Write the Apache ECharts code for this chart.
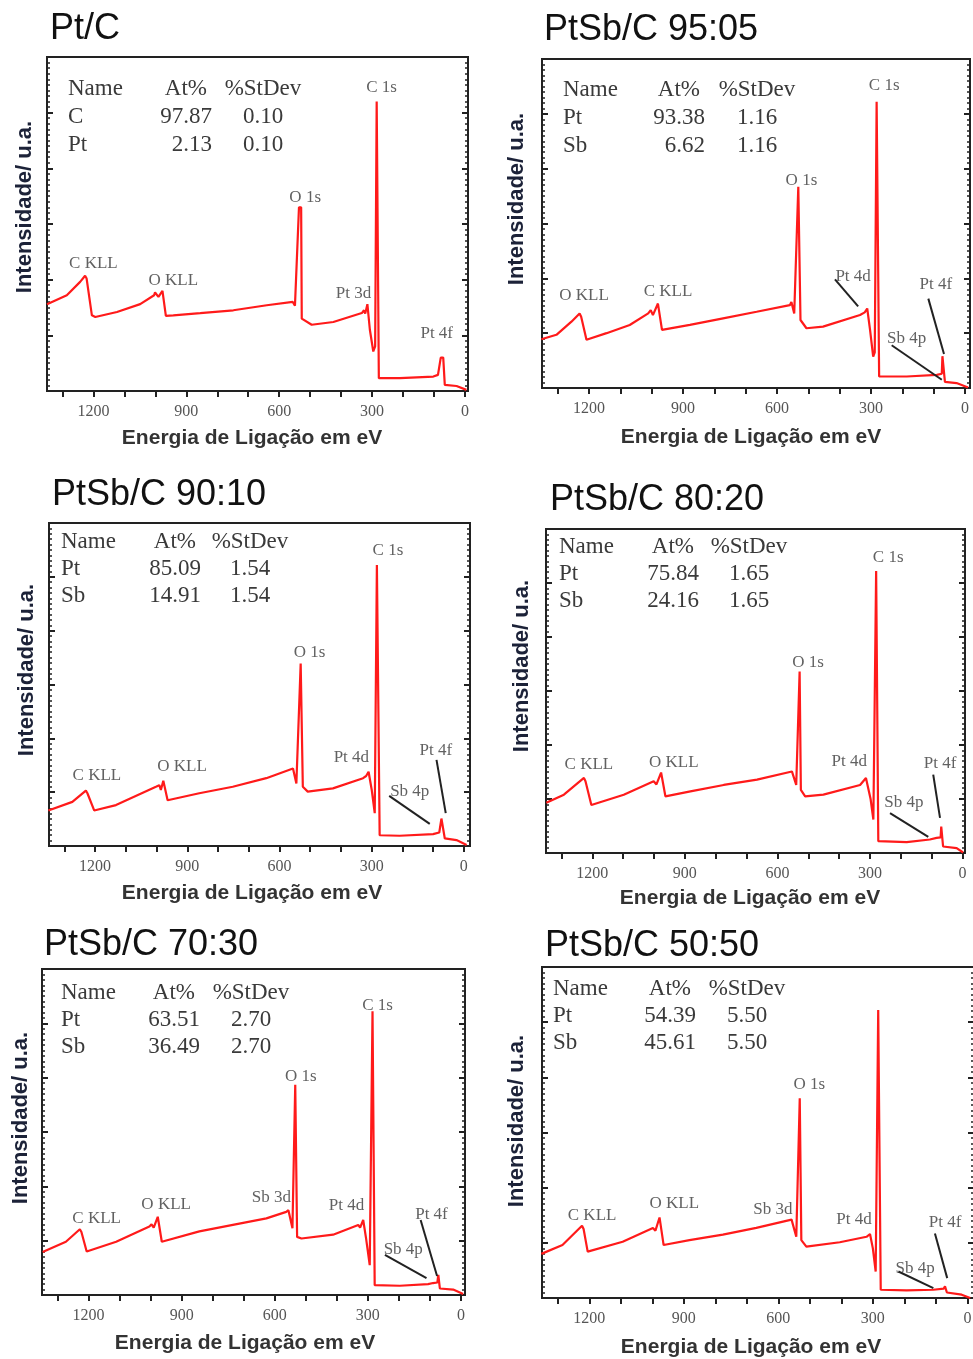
<!DOCTYPE html>
<html><head><meta charset="utf-8">
<script src="https://cdn.jsdelivr.net/npm/echarts@6/dist/echarts.min.js"></script>
<style>html,body{margin:0;padding:0;background:#fff}#c{width:973px;height:1359px}</style>
</head><body><div id="c"></div>
<script>
// ---------- DATA ----------
const panelTitles = ['Pt/C','PtSb/C 95:05','PtSb/C 90:10','PtSb/C 80:20','PtSb/C 70:30','PtSb/C 50:50'];
const xTickValues = [0,100,200,300,400,500,600,700,800,900,1000,1100,1200,1300];
const xLabelValues = [0,300,600,900,1200];
const yAxisName = 'Intensidade/ u.a.';
const xAxisName = 'Energia de Ligação em eV';
const tableHeader = ['Name','At%','%StDev'];

// Panel 1: Pt/C
const ptc_E = [1350,1286,1243,1227,1222,1205,1194,1124,1049,1004,1001,990,977,966,942,855,748,640,556,549,536,529,527,495,425,333,326,322,315,307,296,290,285,280,278,210,102,87,78,70,65,27,-5];
const ptc_I = [15.6,17.2,19.6,20.7,20.2,13.6,13.3,14.2,15.6,17.2,17.7,16.9,18.0,13.5,13.6,14.0,14.5,15.4,16.0,15.3,33.0,33.0,13.0,11.9,12.4,14.0,14.5,13.9,15.6,11.0,7.1,8.0,52.0,51.8,2.3,2.3,2.6,2.9,6.0,6.0,1.1,0.9,0.2];
const ptc_pkName = ['C KLL','O KLL','O 1s','C 1s','Pt 3d','Pt 4f'];
const ptc_pkE = [1200,942,516,269,360,91];
const ptc_pkI = [22.9,19.8,34.8,54.5,17.5,10.3];
const ptc_leaders = [];
const ptc_table = [['C','97.87','0.10'],['Pt','2.13','0.10']];

// Panel 2: PtSb/C 95:05
const pt95_E = [1352,1304,1256,1230,1225,1208,1144,1070,1011,1003,996,980,967,878,772,665,559,554,545,532,529,525,506,453,335,320,312,303,293,288,282,277,274,186,90,74,72,67,64,27,-10];
const pt95_I = [8.9,9.7,12.1,13.6,13.0,8.8,10.0,11.5,13.6,14.2,13.3,15.4,10.6,11.5,12.7,13.9,15.1,15.7,13.6,36.7,36.5,12.4,10.9,11.2,13.3,13.8,14.5,10.6,5.7,6.5,52.2,52.0,2.1,2.1,2.4,2.6,5.8,5.8,1.1,0.9,0.1];
const pt95_pkName = ['O KLL','C KLL','O 1s','C 1s','Pt 4d','Pt 4f','Sb 4p'];
const pt95_pkE = [1216,948,522,258,357,93,186];
const pt95_pkI = [16.9,17.6,37.9,55.1,20.4,18.8,9.1];
const pt95_leaders = [[415,19.8,341,14.9],[117,16.3,67,6.2],[234,7.8,74,1.5]];
const pt95_table = [['Pt','93.38','1.16'],['Sb','6.62','1.16']];

// Panel 3: PtSb/C 90:10
const pt90_E = [1352,1274,1230,1225,1203,1132,1002,991,986,978,964,861,752,643,556,545,531,528,524,508,426,328,318,310,300,290,283,279,274,209,100,80,73,69,62,24,-9];
const pt90_I = [6.6,8.2,10.3,9.8,6.6,7.6,11.0,11.3,10.4,12.1,8.5,9.8,11.0,12.6,14.4,11.6,33.9,33.8,11.0,10.1,10.7,12.6,13.0,13.8,10.5,6.1,52.2,52.0,2.0,1.9,2.2,2.5,5.1,5.1,1.4,1.1,0.2];
const pt90_pkName = ['C KLL','O KLL','O 1s','C 1s','Pt 4d','Pt 4f','Sb 4p'];
const pt90_pkE = [1194,917,502,247,366,91,176];
const pt90_pkI = [13.0,14.7,35.9,54.8,16.5,17.8,10.1];
const pt90_leaders = [[243,9.3,111,4.1],[89,16.0,59,6.1]];
const pt90_table = [['Pt','85.09','1.54'],['Sb','14.91','1.54']];

// Panel 4: PtSb/C 80:20
const pt80_E = [1349,1292,1227,1222,1203,1098,1001,992,977,963,882,774,666,553,539,528,525,524,510,451,332,313,298,289,280,276,273,181,106,84,71,69,66,63,19,-2];
const pt80_I = [9.3,10.8,13.9,13.3,8.9,10.8,13.3,12.7,14.9,10.5,11.4,12.6,13.6,15.1,12.6,33.6,33.5,11.7,10.5,10.8,12.6,13.9,10.0,6.2,52.2,52.0,2.2,2.0,2.5,2.8,2.9,4.9,4.9,1.2,0.9,0.1];
const pt80_pkName = ['C KLL','O KLL','O 1s','C 1s','Pt 4d','Pt 4f','Sb 4p'];
const pt80_pkE = [1211,936,501,241,367,73,190];
const pt80_pkI = [16.4,16.7,35.2,54.8,16.9,16.5,9.3];
const pt80_leaders = [[235,7.4,111,3.0],[95,14.5,73,6.5]];
const pt80_table = [['Pt','75.84','1.65'],['Sb','24.16','1.65']];

// Panel 5: PtSb/C 70:30
const pt70_E = [1348,1273,1228,1223,1206,1111,1004,997,990,977,964,843,735,627,563,556,543,534,531,528,514,412,331,325,315,306,294,285,281,278,197,106,90,76,73,70,68,25,-7];
const pt70_I = [7.9,9.8,12.1,11.6,8.0,9.8,12.6,13.0,12.4,14.4,9.8,11.7,12.9,14.1,15.3,15.6,12.3,38.7,38.6,10.7,10.4,11.1,12.9,12.4,13.8,10.5,5.5,52.2,52.0,1.8,1.7,2.0,2.2,2.3,3.7,3.7,1.2,1.0,0.2];
const pt70_pkName = ['C KLL','O KLL','Sb 3d','O 1s','C 1s','Pt 4d','Pt 4f','Sb 4p'];
const pt70_pkE = [1174,950,611,516,269,369,95,186];
const pt70_pkI = [14.0,16.6,18.0,40.3,53.2,16.4,14.9,8.4];
const pt70_leaders = [[245,7.4,111,3.1],[130,13.8,77,3.5]];
const pt70_table = [['Pt','63.51','2.70'],['Sb','36.49','2.70']];

// Panel 6: PtSb/C 50:50
const pt50_E = [1352,1285,1223,1218,1205,1094,998,990,977,964,882,776,670,558,543,532,529,527,511,405,320,309,300,291,283,279,275,193,108,75,71,68,65,18,-9];
const pt50_I = [8.0,9.6,13.1,12.5,8.4,10.2,12.7,12.2,14.6,9.6,10.5,11.5,12.7,14.2,11.1,36.2,36.0,10.5,9.3,10.1,11.1,11.6,9.0,4.8,52.2,52.0,1.5,1.4,1.5,1.7,2.1,2.1,1.0,0.6,0.0];
const pt50_pkName = ['C KLL','O KLL','Sb 3d','O 1s','Pt 4d','Pt 4f','Sb 4p'];
const pt50_pkE = [1191,930,617,502,360,71,166];
const pt50_pkI = [14.9,17.2,16.0,38.7,14.3,13.6,5.4];
const pt50_leaders = [[219,4.8,108,1.8],[103,11.7,64,3.6]];
const pt50_table = [['Pt','54.39','5.50'],['Sb','45.61','5.50']];

// ---------- LAYOUT ----------
const layout = [
  {l:47, t:57, w:421, h:334, xmin:-10, title:[50,29], yname:[25,207], xname:[252,438], tb:{x:21,r:165,c:216,y0:32,dy:28}},
  {l:542,t:59, w:428, h:329, xmin:-16, title:[544,30], yname:[517,199], xname:[751,437], tb:{x:21,r:163,c:215,y0:31,dy:28}},
  {l:49, t:523,w:421, h:323, xmin:-20, title:[52,495], yname:[27,670], xname:[252,893], tb:{x:12,r:152,c:201,y0:19,dy:27}},
  {l:546,t:529,w:419, h:324, xmin:-8,  title:[550,500], yname:[522,666], xname:[750,898], tb:{x:13,r:153,c:203,y0:18,dy:27}},
  {l:42, t:969,w:423, h:326, xmin:-13, title:[44,945], yname:[21,1118], xname:[245,1343], tb:{x:19,r:158,c:209,y0:24,dy:27}},
  {l:542,t:967,w:432, h:331, xmin:-21, title:[545,946], yname:[517,1121], xname:[751,1347], tb:{x:11,r:154,c:205,y0:22,dy:27}}
];

const panels = [
  {E:ptc_E, I:ptc_I, pn:ptc_pkName, pe:ptc_pkE, pi:ptc_pkI, ld:ptc_leaders, tb:ptc_table},
  {E:pt95_E, I:pt95_I, pn:pt95_pkName, pe:pt95_pkE, pi:pt95_pkI, ld:pt95_leaders, tb:pt95_table},
  {E:pt90_E, I:pt90_I, pn:pt90_pkName, pe:pt90_pkE, pi:pt90_pkI, ld:pt90_leaders, tb:pt90_table},
  {E:pt80_E, I:pt80_I, pn:pt80_pkName, pe:pt80_pkE, pi:pt80_pkI, ld:pt80_leaders, tb:pt80_table},
  {E:pt70_E, I:pt70_I, pn:pt70_pkName, pe:pt70_pkE, pi:pt70_pkI, ld:pt70_leaders, tb:pt70_table},
  {E:pt50_E, I:pt50_I, pn:pt50_pkName, pe:pt50_pkE, pi:pt50_pkI, ld:pt50_leaders, tb:pt50_table}
];

const SERIF = '"Liberation Serif","Times New Roman",serif';
const SANS = '"Liberation Sans",Arial,sans-serif';
const AX = '#222';

const option = {animation:false, backgroundColor:'#fff', grid:[], xAxis:[], yAxis:[], series:[], graphic:[]};

function yAx(gi, pos, interval, len, showLine, w){
  option.yAxis.push({
    type:'value', gridIndex:gi, position:pos, min:0, max:60, interval:interval,
    axisLine:{show:showLine, onZero:false, lineStyle:{color:AX, width:2}},
    axisTick:{show:true, inside:true, length:len, lineStyle:{color:AX, width:w}},
    axisLabel:{show:false}, splitLine:{show:false}
  });
  return option.yAxis.length-1;
}

panels.forEach((p, i) => {
  const L = layout[i];
  // main grid
  const gMain = option.grid.length;
  option.grid.push({left:L.l, top:L.t, width:L.w, height:L.h, show:true, borderColor:AX, borderWidth:2, backgroundColor:'rgba(0,0,0,0)', containLabel:false, outerBoundsMode:'none'});
  // overlay grid for minor ticks
  const gMinor = option.grid.length;
  option.grid.push({left:L.l, top:L.t, width:L.w, height:L.h, show:false, containLabel:false, outerBoundsMode:'none'});

  const xMain = option.xAxis.length;
  option.xAxis.push({
    type:'value', gridIndex:gMain, inverse:true, min:L.xmin, max:1350,
    axisLine:{show:true, onZero:false, lineStyle:{color:AX, width:2}},
    axisTick:{show:true, inside:false, length:6, customValues:xTickValues, lineStyle:{color:AX, width:2}},
    axisLabel:{show:true, customValues:xLabelValues, formatter:v=>String(v), fontFamily:SERIF, fontSize:16, color:'#555', margin:13},
    splitLine:{show:false}
  });
  option.xAxis.push({type:'value', gridIndex:gMinor, inverse:true, min:L.xmin, max:1350, show:false});

  const yMain = yAx(gMain, 'left', 10, 6, true, 2);
  yAx(gMain, 'right', 10, 6, true, 2);
  yAx(gMinor, 'left', 1, 3, false, 1.5);
  yAx(gMinor, 'right', 1, 3, false, 1.5);

  option.series.push({
    type:'line', xAxisIndex:xMain, yAxisIndex:yMain, showSymbol:false, symbol:'none', silent:true,
    data:p.E.map((e,k)=>[e,p.I[k]]),
    lineStyle:{color:'#ff1a1a', width:2.2}, z:3,
    markLine:{silent:true, symbol:['none','none'], label:{show:false},
      lineStyle:{color:'#222', width:2, type:'solid'},
      emphasis:{disabled:true},
      data:p.ld.map(d=>[{coord:[d[0],d[1]]},{coord:[d[2],d[3]]}])}
  });
  option.series.push({
    type:'scatter', xAxisIndex:xMain, yAxisIndex:yMain, symbolSize:1, silent:true,
    itemStyle:{color:'rgba(0,0,0,0)'},
    data:p.pn.map((n,k)=>({name:n, value:[p.pe[k], p.pi[k]]})),
    label:{show:true, position:'inside', formatter:'{b}', fontFamily:SERIF, fontSize:17, color:'#3a3a3a', align:'center', verticalAlign:'middle'}
  });
  option.graphic.push({type:'text', x:L.title[0], y:L.title[1], style:{text:panelTitles[i], font:'36px '+SANS, fill:'#111', align:'left', verticalAlign:'middle'}});
  option.graphic.push({type:'text', x:L.yname[0], y:L.yname[1], rotation:Math.PI/2, style:{text:yAxisName, font:'bold 22px '+SANS, fill:'#1c2238', align:'center', verticalAlign:'middle'}});
  option.graphic.push({type:'text', x:L.xname[0], y:L.xname[1], style:{text:xAxisName, font:'bold 21px '+SANS, fill:'#333', align:'center', verticalAlign:'middle'}});
  const T = L.tb;
  const rows = [tableHeader].concat(p.tb);
  rows.forEach((r, k) => {
    const y = L.t + T.y0 + k*T.dy;
    const f = '23px '+SERIF;
    option.graphic.push({type:'text', x:L.l+T.x, y:y, style:{text:r[0], font:f, fill:'#3a3a3a', align:'left', verticalAlign:'middle'}});
    option.graphic.push({type:'text', x:L.l+T.r-(k===0?5:0), y:y, style:{text:r[1], font:f, fill:'#3a3a3a', align:'right', verticalAlign:'middle'}});
    option.graphic.push({type:'text', x:L.l+T.c, y:y, style:{text:r[2], font:f, fill:'#3a3a3a', align:'center', verticalAlign:'middle'}});
  });
});

const chart = echarts.init(document.getElementById('c'), null, {renderer:'canvas'});
chart.setOption(option);
</script></body></html>
